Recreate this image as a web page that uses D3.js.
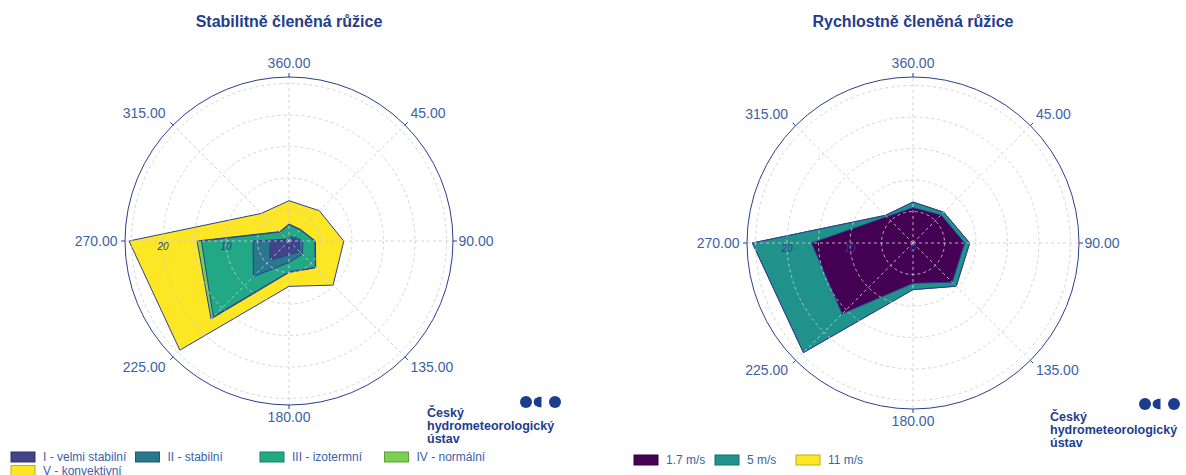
<!DOCTYPE html>
<html>
<head>
<meta charset="utf-8">
<script src="https://cdn.jsdelivr.net/npm/d3@7"></script>
<style>
  body { margin: 0; background: #fff; }
  svg { display: block; font-family: "Liberation Sans", Arial, sans-serif; }
</style>
</head>
<body>
<div id="chart"></div>
<script>
// wind directions (degrees, clockwise from north) and axis labels
var directions = [0, 45, 90, 135, 180, 225, 270, 315];
var directionLabels = ['360.00', '45.00', '90.00', '135.00', '180.00', '225.00', '270.00', '315.00'];
var gridValues = [5, 10, 15, 20, 25];
var radialTickValues = [0, 10, 20];

// stability classes, cumulative frequency per direction
var stabilityNames = ['I - velmi stabilní', 'II - stabilní', 'III - izotermní', 'IV - normální', 'V - konvektivní'];
var stabilityColors = ['#414487', '#2a788e', '#22a884', '#7ad151', '#fde725'];
var stabI = [0.3, 0.6, 1.6, 2.4, 2.2, 4.3, 3.0, 0.2];
var stabII = [0.5, 1.0, 2.2, 3.0, 3.4, 8.0, 5.7, 0.4];
var stabIII = [2.6, 2.5, 4.1, 5.9, 4.9, 17.0, 13.9, 2.0];
var stabIV = [2.7, 2.6, 4.2, 6.0, 5.0, 17.5, 14.6, 2.1];
var stabV = [6.4, 6.8, 8.7, 9.9, 7.2, 24.5, 25.4, 6.2];

// wind speed classes, cumulative frequency per direction
var speedNames = ['1.7 m/s', '5 m/s', '11 m/s'];
var speedColors = ['#440154', '#21918c', '#fde725'];
var speed17 = [5.6, 6.3, 8.2, 8.8, 6.4, 15.9, 16.1, 5.9];
var speed5 = [6.5, 6.9, 9.0, 9.7, 7.4, 24.6, 25.5, 6.2];
var speed11 = [6.5, 6.9, 9.0, 9.7, 7.4, 24.6, 25.5, 6.2];

var width = 1186, height = 475;
var navy = '#2a3f8f';
var tickColor = '#3d5fa8';

var svg = d3.select('#chart').append('svg')
  .attr('width', width)
  .attr('height', height)
  .attr('viewBox', [0, 0, width, height]);

function drawRose(cfg) {
  var g = svg.append('g').attr('transform', 'translate(' + cfg.cx + ',' + cfg.cy + ')');
  var r = d3.scaleLinear().domain([0, cfg.rMax]).range([0, cfg.R]);
  var a = d3.scaleLinear().domain([0, 360]).range([0, 2 * Math.PI]);

  svg.append('text')
    .attr('x', cfg.cx).attr('y', 27)
    .attr('text-anchor', 'middle')
    .attr('font-size', 16).attr('font-weight', 'bold')
    .attr('fill', '#233d8c')
    .text(cfg.title);

  var line = d3.lineRadial()
    .angle(function (d, i) { return a(directions[i]); })
    .radius(function (d) { return r(d); })
    .curve(d3.curveLinearClosed);

  // largest (outermost) series first
  var order = d3.range(cfg.series.length).reverse();
  g.append('g').selectAll('path')
    .data(order)
    .join('path')
    .attr('d', function (k) { return line(cfg.series[k]); })
    .attr('fill', function (k) { return cfg.colors[k]; })
    .attr('stroke', navy)
    .attr('stroke-width', 1)
    .attr('stroke-linejoin', 'round');

  // grid above the traces
  var grid = g.append('g')
    .attr('fill', 'none')
    .attr('stroke', 'rgba(205,205,205,0.85)')
    .attr('stroke-width', 1)
    .attr('stroke-dasharray', '3,3');
  grid.selectAll('circle')
    .data(gridValues)
    .join('circle')
    .attr('r', function (d) { return r(d); });
  grid.selectAll('line')
    .data(directions)
    .join('line')
    .attr('x2', function (d) { return cfg.R * Math.sin(a(d)); })
    .attr('y2', function (d) { return -cfg.R * Math.cos(a(d)); });

  // outer circle and ticks
  g.append('circle').attr('r', cfg.R).attr('fill', 'none').attr('stroke', navy).attr('stroke-width', 1);
  g.append('g').selectAll('line')
    .data(directions)
    .join('line')
    .attr('x1', function (d) { return cfg.R * Math.sin(a(d)); })
    .attr('y1', function (d) { return -cfg.R * Math.cos(a(d)); })
    .attr('x2', function (d) { return (cfg.R + 4) * Math.sin(a(d)); })
    .attr('y2', function (d) { return -(cfg.R + 4) * Math.cos(a(d)); })
    .attr('stroke', navy);

  g.append('g').selectAll('text')
    .data(directions)
    .join('text')
    .attr('font-size', 14)
    .attr('fill', tickColor)
    .attr('text-anchor', function (d) {
      var s = Math.sin(a(d));
      return s > 0.3 ? 'start' : (s < -0.3 ? 'end' : 'middle');
    })
    .attr('x', function (d) {
      var s = Math.sin(a(d));
      var off = s > 0.3 ? 5.5 : (s < -0.3 ? -7.5 : 0);
      return cfg.R * s + off;
    })
    .attr('y', function (d) {
      var c = Math.cos(a(d));
      var off = c > 0.9 ? -14 : (c > 0.3 ? -12 : (c < -0.9 ? 12 : (c < -0.3 ? 10 : 0)));
      return -cfg.R * c + off + 5;
    })
    .text(function (d, i) { return directionLabels[i]; });

  // radial tick labels along 270
  g.append('g').selectAll('text')
    .data(radialTickValues)
    .join('text')
    .attr('x', function (d) { return -r(d); })
    .attr('y', 8.5)
    .attr('text-anchor', 'middle')
    .attr('font-size', 10)
    .attr('font-style', 'italic')
    .attr('fill', navy)
    .text(function (d) { return d; });
}

function drawLegend(names, colors, x0, y0, step, perRow, rowStep) {
  var items = svg.append('g').selectAll('g')
    .data(names)
    .join('g')
    .attr('transform', function (d, i) {
      return 'translate(' + (x0 + (i % perRow) * step) + ',' + (y0 + Math.floor(i / perRow) * rowStep) + ')';
    });
  items.append('rect')
    .attr('x', 0).attr('y', -5)
    .attr('width', 24).attr('height', 10)
    .attr('fill', function (d, i) { return colors[i]; })
    .attr('stroke', function (d, i) { return d3.color(colors[i]).darker(0.8); })
    .attr('stroke-width', 1);
  items.append('text')
    .attr('x', 32).attr('y', 4.3)
    .attr('font-size', 12)
    .attr('fill', tickColor)
    .text(function (d) { return d; });
}

function drawLogo(x0, y0, tx, ty) {
  var logoColor = '#1c3d8f';
  var lg = svg.append('g').attr('fill', logoColor);
  lg.append('circle').attr('cx', x0 + 6).attr('cy', y0).attr('r', 6);
  lg.append('path')
    .attr('d', 'M' + (x0 + 22) + ',' + (y0 - 6) + 'L' + (x0 + 22) + ',' + (y0 + 6) +
      'A9,6 0 0 1 ' + (x0 + 22) + ',' + (y0 - 6) + 'Z')
    .attr('stroke', '#fff').attr('stroke-width', 1);
  lg.append('circle').attr('cx', x0 + 35).attr('cy', y0).attr('r', 6);
  var lines = ['Český', 'hydrometeorologický', 'ústav'];
  svg.append('g').selectAll('text')
    .data(lines)
    .join('text')
    .attr('x', tx)
    .attr('y', function (d, i) { return ty + i * 13; })
    .attr('font-size', 12.5)
    .attr('font-weight', 'bold')
    .attr('fill', logoColor)
    .text(function (d) { return d; });
}

drawRose({
  cx: 289, cy: 241, R: 164, rMax: 164 / 6.3,
  title: 'Stabilitně členěná růžice',
  series: [stabI, stabII, stabIII, stabIV, stabV],
  colors: stabilityColors
});

drawRose({
  cx: 913, cy: 243, R: 166, rMax: 166 / 6.3,
  title: 'Rychlostně členěná růžice',
  series: [speed17, speed5, speed11],
  colors: speedColors
});

drawLegend(stabilityNames, stabilityColors, 11, 457, 124.5, 4, 13.5);
drawLegend(speedNames, speedColors, 634, 460, 81, 3, 14);

drawLogo(520, 402, 427, 417);
drawLogo(1139, 404, 1050, 421);
</script>
</body>
</html>
